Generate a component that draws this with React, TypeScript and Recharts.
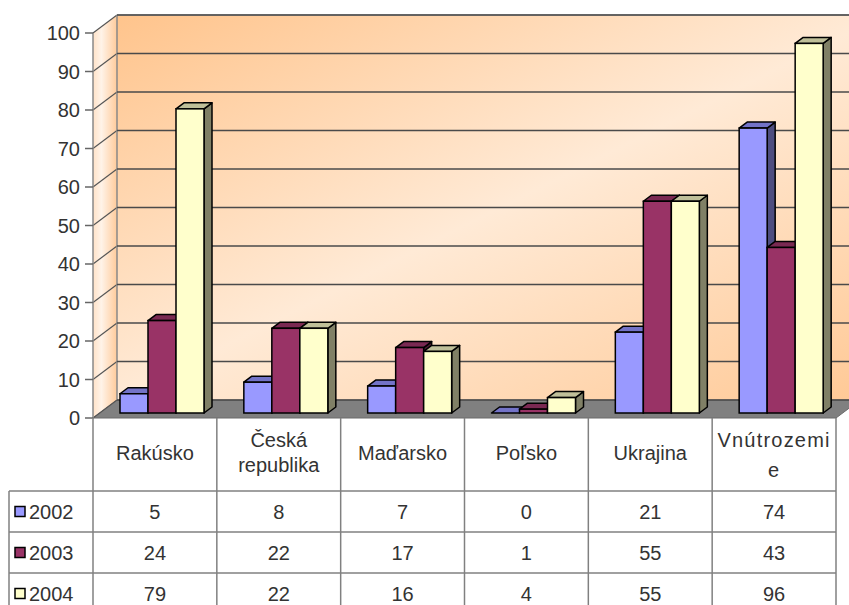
import React from "react";
import { BarChart, Bar, XAxis, YAxis, CartesianGrid, ReferenceArea } from "recharts";

const CATEGORIES = ["Rakúsko", "Česká republika", "Maďarsko", "Poľsko", "Ukrajina", "Vnútrozemie"];
const HEADER_LINES = [["Rakúsko"], ["Česká", "republika"], ["Maďarsko"], ["Poľsko"], ["Ukrajina"], ["Vnútrozemi", "e"]];
const Y2002 = [5, 8, 7, 0, 21, 74];
const Y2003 = [24, 22, 17, 1, 55, 43];
const Y2004 = [79, 22, 16, 4, 55, 96];
const Y_TICKS = [0, 10, 20, 30, 40, 50, 60, 70, 80, 90, 100];

const SERIES = [
  { key: "y2002", name: "2002", values: Y2002, front: "#9999FF", top: "#7373C8", side: "#4D4D80" },
  { key: "y2003", name: "2003", values: Y2003, front: "#993366", top: "#7A2952", side: "#4D1A33" },
  { key: "y2004", name: "2004", values: Y2004, front: "#FFFFCC", top: "#BFBF99", side: "#808066" },
];

const data = CATEGORIES.map((category, i) => ({
  category,
  y2002: Y2002[i],
  y2003: Y2003[i],
  y2004: Y2004[i],
}));

// 3d depth of the walls and of the bars
const WALL_DX = 24;
const WALL_DY = 18;
const BAR_OFF_X = 7;
const BAR_OFF_Y = 5;
const BAR_DX = 8;
const BAR_DY = 6;

const TEXT = "#333333";
const FONT = "'Liberation Sans', Arial, sans-serif";
const LINE = "#808080";

const HEADER_H = 73;
const ROW_H = 41;

const make3DBar = (s: (typeof SERIES)[number]) => (props: any) => {
  const { x, y, width, height } = props;
  if (x == null || y == null) return null;
  const fx = x + BAR_OFF_X;
  const fy = y - BAR_OFF_Y;
  const w = width;
  const h = Math.max(height, 0);
  return (
    <g>
      <polygon
        points={`${fx + w},${fy} ${fx + w + BAR_DX},${fy - BAR_DY} ${fx + w + BAR_DX},${fy + h - BAR_DY} ${fx + w},${fy + h}`}
        fill={s.side}
        stroke="#000"
        strokeWidth={1.5}
        strokeLinejoin="round"
      />
      <polygon
        points={`${fx},${fy} ${fx + BAR_DX},${fy - BAR_DY} ${fx + w + BAR_DX},${fy - BAR_DY} ${fx + w},${fy}`}
        fill={s.top}
        stroke="#000"
        strokeWidth={1.5}
        strokeLinejoin="round"
      />
      <rect x={fx} y={fy} width={w} height={h} fill={s.front} stroke="#000" strokeWidth={1.5} />
    </g>
  );
};

const Walls = (props: any) => {
  const { x, y, width, height } = props;
  if (x == null) return null;
  const bottom = y + height;
  return (
    <g>
      <rect x={x + WALL_DX} y={y - WALL_DY} width={width + WALL_DX} height={height} fill="url(#backWall)" />
      <polygon
        points={`${x},${y} ${x + WALL_DX},${y - WALL_DY} ${x + WALL_DX},${bottom - WALL_DY} ${x},${bottom}`}
        fill="url(#leftWall)"
      />
      <polygon
        points={`${x},${bottom} ${x + WALL_DX},${bottom - WALL_DY} ${x + width + WALL_DX},${bottom - WALL_DY} ${x + width},${bottom}`}
        fill="#808080"
        stroke="#6a6a6a"
        strokeWidth={1}
      />
      {Y_TICKS.map((t) => {
        const ty = y + height * (1 - t / 100);
        return <line key={t} x1={x} y1={ty} x2={x + WALL_DX} y2={ty - WALL_DY} stroke="#555" strokeWidth={1.2} />;
      })}
      <line x1={x} y1={y} x2={x} y2={bottom} stroke="#888" strokeWidth={1.5} />
      <line x1={x + WALL_DX} y1={y - WALL_DY} x2={x + WALL_DX} y2={bottom - WALL_DY} stroke="#888" strokeWidth={1.5} />
      <line x1={x + WALL_DX} y1={y - WALL_DY} x2={x + width + 2 * WALL_DX} y2={y - WALL_DY} stroke="#999" strokeWidth={1.5} />
    </g>
  );
};

const TableTick = (props: any) => {
  const { x, y, index, width, visibleTicksCount } = props;
  const band = width && visibleTicksCount ? width / visibleTicksCount : 124;
  const left = x - band / 2;
  const right = x + band / 2;
  const rowTop = y + HEADER_H;
  const end = 640;
  const lines = HEADER_LINES[index] || [];
  const wide = index === 5;
  return (
    <g fontFamily={FONT} fontSize={20} fill={TEXT}>
      {index === 0 && <line x1={left} y1={y} x2={left} y2={end} stroke={LINE} strokeWidth={1.5} />}
      <line x1={right} y1={y} x2={right} y2={end} stroke={LINE} strokeWidth={1.5} />
      {lines.map((ln: string, k: number) => {
        const cy = lines.length === 1 ? y + 35 : y + 22 + k * (wide ? 30 : 25);
        return (
          <text key={k} x={x} y={cy} textAnchor="middle" dominantBaseline="central" letterSpacing={wide ? 1.2 : 0} fill={TEXT}>
            {ln}
          </text>
        );
      })}
      {SERIES.map((s, r) => {
        const top = rowTop + r * ROW_H;
        return (
          <g key={s.key}>
            <line x1={left} y1={top} x2={right} y2={top} stroke={LINE} strokeWidth={1.5} />
            <text x={x} y={top + ROW_H / 2} textAnchor="middle" dominantBaseline="central" fill={TEXT}>
              {s.values[index]}
            </text>
            {index === 0 && (
              <g>
                <line x1={9} y1={top} x2={left} y2={top} stroke={LINE} strokeWidth={1.5} />
                <rect x={15} y={top + ROW_H / 2 - 5} width={10} height={10} fill={s.front} stroke="#000" strokeWidth={1.5} />
                <text x={29} y={top + ROW_H / 2} dominantBaseline="central" fill={TEXT}>
                  {s.name}
                </text>
              </g>
            )}
          </g>
        );
      })}
      {index === 0 && <line x1={9} y1={rowTop} x2={9} y2={end} stroke={LINE} strokeWidth={1.5} />}
    </g>
  );
};

export default function App() {
  return (
    <div style={{ position: "absolute", left: 0, top: 0, background: "#fff" }}>
      <style>{`.recharts-cartesian-grid { transform: translate(${WALL_DX}px, -${WALL_DY}px); }`}</style>
      <BarChart
        width={849}
        height={605}
        data={data}
        margin={{ top: 33, right: 13, bottom: 0, left: 0 }}
        barCategoryGap={20}
        barGap={0}
      >
        <defs>
          <linearGradient id="backWall" x1="0" y1="0" x2="1" y2="1">
            <stop offset="0" stopColor="#FFC48C" />
            <stop offset="0.5" stopColor="#FFEAD6" />
            <stop offset="1" stopColor="#FFC894" />
          </linearGradient>
          <linearGradient id="leftWall" x1="0" y1="0" x2="1" y2="0">
            <stop offset="0" stopColor="#FFE2C8" />
            <stop offset="0.35" stopColor="#FFF3E8" />
            <stop offset="1" stopColor="#FFCB9B" />
          </linearGradient>
        </defs>
        <ReferenceArea y1={0} y2={100} shape={<Walls />} zIndex={-200} ifOverflow="visible" />
        <CartesianGrid vertical={false} stroke="#4a4a4a" strokeWidth={1.5} />
        <XAxis
          dataKey="category"
          height={187}
          axisLine={false}
          tickLine={false}
          tickSize={0}
          tickMargin={0}
          interval={0}
          tick={<TableTick />}
        />
        <YAxis
          width={93}
          domain={[0, 100]}
          ticks={Y_TICKS}
          axisLine={false}
          tickSize={8}
          tickMargin={5}
          tickLine={{ stroke: "#666", strokeWidth: 1.5 }}
          tick={{ fill: TEXT, fontSize: 20, fontFamily: FONT }}
        />
        {SERIES.map((s) => (
          <Bar key={s.key} dataKey={s.key} name={s.name} isAnimationActive={false} shape={make3DBar(s)} />
        ))}
      </BarChart>
    </div>
  );
}
